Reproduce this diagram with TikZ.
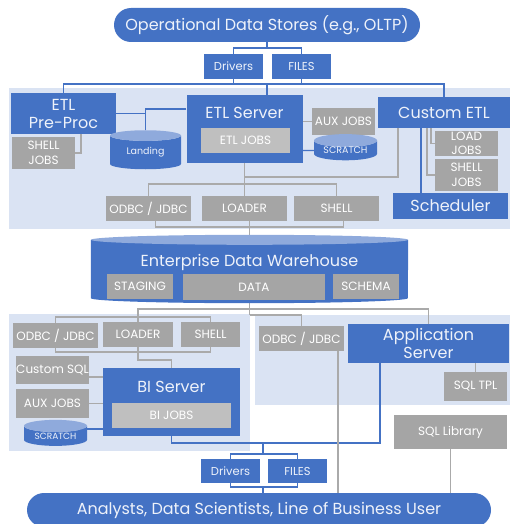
\documentclass[tikz,border=0pt]{standalone}
\usepackage{fontspec}
\setmainfont{Poppins}
\usepackage{tikz}
\usetikzlibrary{positioning,calc,shapes.geometric,backgrounds}
\definecolor{MainBlue}{RGB}{68,114,196}
\definecolor{ZoneBlue}{RGB}{218,227,243}
\definecolor{CylTop}{RGB}{143,170,220}
\definecolor{BoxGray}{RGB}{165,165,165}
\definecolor{JobGray}{RGB}{191,191,191}
\definecolor{LineGray}{RGB}{170,170,170}
\definecolor{SoftWhite}{RGB}{238,242,250}
\pgfdeclarelayer{zones}
\pgfsetlayers{zones,background,main}

\begin{document}
\begin{tikzpicture}[x=1pt,y=-1pt,
    wh/.style 2 args={minimum width=#1pt, minimum height=#2pt},
    title/.style={text=SoftWhite, inner sep=0pt, align=center, font=\fontsize{16}{18}\selectfont},
    bluebox/.style={title, fill=MainBlue},
    portbox/.style={bluebox, font=\fontsize{11.5}{13}\selectfont},
    graybox/.style={fill=BoxGray, text=white, inner sep=0pt, align=center, font=\fontsize{12}{14.5}\selectfont},
    jobbox/.style={graybox, fill=JobGray},
    pill/.style={title, fill=MainBlue, rounded corners=17pt, font=\fontsize{16}{18}\selectfont},
    dbcyl/.style={cylinder, shape border rotate=90, cylinder uses custom fill, cylinder body fill=MainBlue, cylinder end fill=CylTop, text=SoftWhite, inner sep=0pt, font=\fontsize{9.5}{11}\selectfont},
    bline/.style={draw=MainBlue, line width=1.1pt},
    gline/.style={draw=LineGray, line width=1.1pt}]
  \useasboundingbox (0,0) rectangle (510,524);

  \begin{pgfonlayer}{zones}
    \fill[ZoneBlue] (9,88) rectangle (510,229);
    \fill[ZoneBlue] (9,314) rectangle (250,451);
    \fill[ZoneBlue] (255,315) rectangle (510,405);
  \end{pgfonlayer}

  \node[pill, wh={306}{34}] (ods) at (267,25) {Operational Data Stores (e.g., OLTP)};
  \node[portbox, wh={59}{25}] (drv1) at (233.5,66.5) {Drivers};
  \node[portbox, wh={59}{25}] (fil1) at (301.5,66.5) {FILES};

  \node[bluebox, wh={105}{41}] (etlpre) at (63.5,113.5) {ETL\\Pre-Proc};
  \node[graybox, wh={63}{32}] (shj1) at (43.5,153) {SHELL\\JOBS};
  \node[dbcyl, wh={71}{39}, aspect=0.28] (landing) at (145.5,152.5) {Landing};
  \node[bluebox, wh={116}{68}] (etlsrv) at (244.5,129) {};
  \node[title] (etltitle) at (244.5,113) {ETL Server};
  \node[jobbox, wh={89}{25}] (etljobs) at (245.5,140.5) {ETL JOBS};
  \node[graybox, wh={63}{27}] (auxj1) at (343.5,121.5) {AUX JOBS};
  \node[dbcyl, wh={63}{25}, aspect=0.29] (scr1) at (345.5,150.5) {SCRATCH};
  \node[bluebox, wh={132}{31}] (cust) at (444,112.5) {Custom ETL};
  \node[graybox, wh={63}{25}] (ldj) at (466.5,143.5) {LOAD\\JOBS};
  \node[graybox, wh={63}{32}] (shj2) at (466.5,175) {SHELL\\JOBS};
  \node[bluebox, wh={115}{26}] (sched) at (450.5,206) {Scheduler};
  \node[graybox, wh={85}{25}] (odbc1) at (148.5,208.5) {ODBC / JDBC};
  \node[graybox, wh={85}{25}] (ldr1) at (244.5,208.5) {LOADER};
  \node[graybox, wh={85}{25}] (shl1) at (336.5,208.5) {SHELL};

  \node[wh={317}{68}, inner sep=0pt] (edw) at (249.5,269) {};
  \fill[MainBlue] ([yshift=-5pt]edw.north west) -- ([yshift=5pt]edw.south west)
    arc[start angle=180, end angle=360, x radius=158.5pt, y radius=5pt]
    -- ([yshift=-5pt]edw.north east) -- cycle;
  \fill[CylTop] ([yshift=-5pt]edw.north) ellipse[x radius=158.5pt, y radius=5pt];
  \node[title] (edwtitle) at (249.5,262) {Enterprise Data Warehouse};
  \node[graybox, wh={66}{25}] (stg) at (140,286.5) {STAGING};
  \node[graybox, wh={142}{26}] (data) at (254,287) {DATA};
  \node[graybox, wh={66}{25}] (schema) at (366,286.5) {SCHEMA};

  \node[graybox, wh={85}{25}] (odbc2) at (55.5,335.5) {ODBC / JDBC};
  \node[graybox, wh={70}{25}] (ldr2) at (138,334.5) {LOADER};
  \node[graybox, wh={59}{25}] (shl2) at (210.5,334.5) {SHELL};
  \node[graybox, wh={73}{28}] (custsql) at (52.5,370) {Custom SQL};
  \node[graybox, wh={73}{29}] (auxj2) at (52.5,403.5) {AUX JOBS};
  \node[dbcyl, wh={63}{26}, aspect=0.29, font=\fontsize{9}{10}\selectfont] (scr2) at (55.5,436) {SCRATCH};
  \node[bluebox, wh={137}{68}] (bisrv) at (171.5,402) {};
  \node[title] (bititle) at (171.5,387) {BI Server};
  \node[jobbox, wh={119}{25}] (bijobs) at (171.5,415.5) {BI JOBS};
  \node[graybox, wh={85}{25}] (odbc3) at (301.5,338.5) {ODBC / JDBC};
  \node[bluebox, wh={161}{39}] (app) at (428.5,343.5) {Application\\Server};
  \node[graybox, wh={63}{29}] (sqltpl) at (475.5,386.5) {SQL TPL};
  \node[graybox, wh={113}{34}] (sqllib) at (450.5,432) {SQL Library};
  \node[portbox, wh={59}{24}] (drv2) at (230.5,471) {Drivers};
  \node[portbox, wh={59}{24}] (fil2) at (297.5,471) {FILES};
  \node[pill, wh={464}{34}] (users) at (259,510) {Analysts, Data Scientists, Line of Business User};

  \coordinate (odsbus) at (267,48);
  \coordinate (etlbus) at (267,84);
  \coordinate (schedin) at (421,128);
  \coordinate (custdrop) at (398,128);
  \coordinate (etljoin) at (244.5,177);
  \coordinate (etlfan) at (244.5,184);
  \coordinate (edwfeed) at (249.5,227);
  \coordinate (edwbus) at (249.5,309);
  \coordinate (appbus) at (249.5,315);
  \coordinate (ldrtop) at (138,317);
  \coordinate (ldrbot) at (138,352);
  \coordinate (bijoin) at (171.5,360);
  \coordinate (appout) at (380,363);
  \coordinate (odbcdrop) at (338,351);
  \coordinate (bibus) at (263,443);
  \coordinate (bifan) at (263,454);
  \coordinate (usrbus) at (263,487);

  \begin{scope}[on background layer]
    \draw[bline] (ods.south) -- (odsbus);
    \draw[bline] (drv1.north) |- (odsbus) -| (fil1.north);
    \draw[bline] (drv1.south) -- (drv1.south |- etlbus);
    \draw[bline] (fil1.south) -- (fil1.south |- etlbus);
    \draw[bline] (etlpre.north) |- (etlbus) -| (cust.north);
    \draw[bline] (etlbus) -- (etlbus |- etlsrv.north);
    \draw[bline] (etlpre.east) -| (landing);
    \draw[bline] ([yshift=20pt]etlsrv.west) -| (landing);
    \draw[gline] ([xshift=17.5pt]etlpre.south) |- (shj1.east);
    \draw[gline] (etlsrv.east |- auxj1.west) -- (auxj1.west);
    \draw[bline] (etlsrv.east |- scr1) -- (scr1);
    \draw[gline] ([xshift=-13pt]cust.south) |- (ldj.west);
    \draw[gline] ([xshift=-17pt]cust.south) |- (shj2.west);
    \draw[bline] (schedin) -- (schedin |- sched.north);
    \draw[gline] (custdrop) |- (etljoin);
    \draw[gline] (etlsrv.south) -- (etlsrv.south |- ldr1.north);
    \draw[gline] (odbc1.north) |- (etlfan) -| (shl1.north);
    \draw[gline] ([xshift=7pt]odbc1.south) |- (edwfeed) -| ([xshift=7pt]shl1.south);
    \draw[gline] (edwfeed |- ldr1.south) -- (edw);
    \draw[gline] (edw) -- (appbus);
    \draw[gline] (ldr2.north) |- (edwbus) -| (app.north);
    \draw[gline] (appbus) -| (odbc3.north);
    \draw[gline] (odbc2.north) |- (ldrtop) -| (shl2.north);
    \draw[gline] (odbc2.south) |- (ldrbot) -| (shl2.south);
    \draw[gline] (ldr2.south) |- (bijoin) -- (bisrv.north);
    \draw[gline] ([yshift=-7pt]custsql.east) -- ++(14,0);
    \draw[gline] (auxj2.east) -- (auxj2.east -| bisrv.west);
    \draw[bline] ([yshift=7pt]scr2.center) -- ++(48,0);
    \draw[bline] (bisrv.south) |- (bibus) -| (appout);
    \draw[bline] (drv2.north) |- (bifan) -| (fil2.north);
    \draw[bline] (bibus) -- (bifan);
    \draw[bline] (drv2.south) |- (usrbus) -| (fil2.south);
    \draw[bline] (usrbus) -- (usrbus |- users.north);
    \draw[gline] (odbcdrop) -- (odbcdrop |- users.north);
    \draw[gline] (sqltpl.north) -- (sqltpl.north |- app.south);
    \draw[gline] (sqllib.south) -- (sqllib.south |- users.north);
  \end{scope}
\end{tikzpicture}
\end{document}
